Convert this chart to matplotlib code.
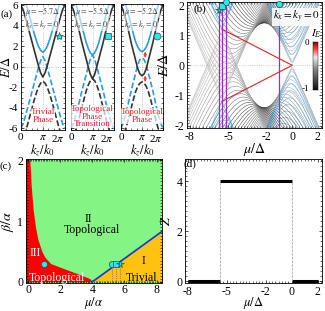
import numpy as np
import matplotlib.pyplot as plt
from matplotlib.colors import LinearSegmentedColormap
from matplotlib.ticker import MultipleLocator, FixedLocator

plt.rcParams['font.family'] = ['Liberation Serif', 'DejaVu Serif']
plt.rcParams['mathtext.fontset'] = 'stix'
plt.rcParams['axes.unicode_minus'] = False
plt.rcParams['font.size'] = 8.5
plt.rcParams['xtick.direction'] = 'in'
plt.rcParams['ytick.direction'] = 'in'
plt.rcParams['xtick.top'] = True
plt.rcParams['ytick.right'] = True
plt.rcParams['xtick.major.size'] = 2.5
plt.rcParams['ytick.major.size'] = 2.5
plt.rcParams['xtick.minor.size'] = 1.2
plt.rcParams['ytick.minor.size'] = 1.2
plt.rcParams['xtick.major.pad'] = 2
plt.rcParams['ytick.major.pad'] = 2
plt.rcParams['axes.linewidth'] = 0.6

# ---- (a) bands along kz (kx=ky=0), read at kz/k0 = 0..pi, mirrored about pi
kz_half = [0, .1, .2, .3, .4, .5, .6, .7, .8, .9, 1.0]
mu_a = [-5.7, -5.5, -5.2]
black_solid = [[6.0, 5.6, 4.9, 4.1, 3.3, 2.5, 1.7, 0.9, 0.1, -0.6, -1.0],
               [6.0, 5.6, 4.9, 4.1, 3.3, 2.4, 1.6, 0.8, 0.0, -0.75, -1.17],
               [6.0, 5.5, 4.8, 4.0, 3.1, 2.2, 1.4, 0.6, -0.2, -0.7, -0.87]]
blue_solid = [[7.4, 7.0, 6.4, 5.7, 4.9, 4.1, 3.3, 2.6, 2.0, 1.6, 1.4],
              [7.3, 6.9, 6.3, 5.6, 4.8, 4.0, 3.2, 2.4, 1.8, 1.35, 1.17],
              [7.2, 6.8, 6.2, 5.5, 4.7, 3.9, 3.1, 2.4, 1.9, 1.6, 1.47]]
phase_text = ['Trivial\nPhase', 'Topological\nPhase\nTransition', 'Topological\nPhase']
phase_y = [-4.8, -4.85, -4.8]
marker_a = ['*', 's', 'o']

# ---- (b) spectrum vs mu at kx=ky=0, quantized kz
n_modes = 36
mu_c1, gap_e = -5.5, 1.17      # gap closing at mu=-5.5, E=+-1.17
d_pair, a_so = 2.2, 0.6
mu_edge = [-5.5, 0.0]
e_edge = [1.2, 0.0]
mu_marks = [-5.7, -5.5, -5.2, -1.0]
e_marks = [1.83, 1.98, 2.1, 2.03]
marker_b = ['*', 's', 'o', 'o']

# ---- (c) phase diagram
beta_III = [2.0, 1.6, 1.2, 0.9, 0.7, 0.5, 0.4, 0.3, 0.2, 0.1, 0.05, 0.0]
mu_III = [0.1, 0.18, 0.3, 0.45, 0.6, 0.85, 1.05, 1.4, 2.4, 3.4, 3.85, 4.0]
mu_I = [4.0, 8.4]
beta_I = [0.0, 0.84]
mu_pts = [1.0, 5.2, 5.5, 5.7]
beta_pts = [0.3, 0.3, 0.3, 0.3]
marker_c = ['o', 'o', 's', '*']

# ---- (d) winding number
mu_steps = [-8.0, -5.5, 0.0, 2.0]
z_vals = [0, 4, 0]

blue = '#2b9be3'
dark = '#333333'
cyan = '#2ee6e6'
red_txt = '#e8202a'
cmap = LinearSegmentedColormap.from_list(
    'ie', [(0, '#101010'), (0.45, '#8a8a8a'), (0.68, '#ececec'),
           (0.84, '#ff5050'), (1.0, '#a00000')])

fig = plt.figure(figsize=(3.25, 3.11), dpi=100)
W, H = 325, 311


def add_px(x0, y0, x1, y1):
    return fig.add_axes([x0 / W, 1 - y1 / H, (x1 - x0) / W, (y1 - y0) / H])


def mirror(v):
    v = np.asarray(v, float)
    return np.concatenate([v, v[::-1][1:]])


kz = np.concatenate([np.array(kz_half), 2 - np.array(kz_half)[::-1][1:]]) * np.pi

# ---------------- panel (a)
a_boxes = [(20.7, 4, 65, 130), (71, 4, 114, 130), (121, 4, 163, 130)]
for i in range(3):
    ax = add_px(*a_boxes[i])
    bs = mirror(black_solid[i])
    us = mirror(blue_solid[i])
    ls = (0, (3.5, 1.5))
    ax.axhline(0, color='#999999', lw=0.5, ls=':')
    ax.axvline(np.pi, color='#999999', lw=0.5, ls=':')
    ax.plot(kz, -bs, color=blue, lw=1.2, ls=ls)
    ax.plot(kz, -us, color=dark, lw=1.2, ls=ls)
    ax.plot(kz, us, color=blue, lw=1.2)
    ax.plot(kz, bs, color=dark, lw=1.2)
    ax.set_xlim(0, 2 * np.pi)
    ax.set_ylim(-6.15, 6.1)
    ax.set_xticks([0, np.pi, 2 * np.pi])
    ax.set_xticklabels(['0', r'$\pi$', r'2$\pi$'])
    ax.get_xticklabels()[2].set_ha('right')
    ax.xaxis.set_minor_locator(MultipleLocator(np.pi / 4))
    ax.yaxis.set_major_locator(MultipleLocator(2))
    ax.yaxis.set_minor_locator(MultipleLocator(0.5))
    ax.tick_params(labelsize=8)
    if i == 0:
        ax.set_ylabel(r'$E/\Delta$', fontsize=9)
        ax.yaxis.set_label_coords(-0.18, 0.5)
    else:
        ax.set_yticklabels([])
    ax.set_xlabel(r'$k_z/k_0$', fontsize=9)
    ax.xaxis.set_label_coords(0.5, -0.1)
    ax.text(np.pi, 5.35, r'$\mu=-%.1f\Delta$' % abs(mu_a[i]), ha='center',
            va='center', fontsize=5.8, color='#444444',
            bbox=dict(fc='white', ec='none', alpha=0.6, pad=0))
    ax.text(np.pi * 0.95, 4.1, r'$k_x=k_y=0$', ha='center', va='center',
            fontsize=5.8, color='#444444',
            bbox=dict(fc='white', ec='none', alpha=0.6, pad=0))
    ax.text(np.pi, phase_y[i], phase_text[i], ha='center', va='center',
            fontsize=6.5, color=red_txt, linespacing=0.95,
            bbox=dict(fc='white', ec='none', alpha=0.7, pad=0))
    ax.plot(1.72 * np.pi, 3.0, marker=marker_a[i], ms=6 if i == 0 else 5,
            mfc=cyan, mec='#1a4f5a', mew=0.5, clip_on=False)
    if i == 2:
        for e0, e1 in [(1.47, 0.87), (-0.87, -1.47)]:
            ax.annotate('', xy=(1.15 * np.pi, e1), xytext=(1.15 * np.pi, e0),
                        arrowprops=dict(arrowstyle='<->', color='#ee2222',
                                        lw=0.6, shrinkA=0, shrinkB=0,
                                        mutation_scale=4))
fig.text(7 / W, 1 - 14 / H, '(a)', ha='center', va='center', fontsize=8)

# ---------------- panel (b)
axb = add_px(187.3, 2, 322.3, 128)
mu = np.linspace(-8.3, 2.4, 500)
kq = np.pi * (np.arange(n_modes) + 0.5) / n_modes
for j, k in enumerate(kq):
    c = -mu_c1 * np.sin(k / 2) ** 2
    xi = mu + c
    dd = d_pair * np.sin(k)
    hh = np.sqrt((gap_e * np.sin(k / 2) ** 2) ** 2 + (a_so * np.sin(k)) ** 2)
    ee = np.sqrt(xi ** 2 + dd ** 2)
    gcol = cmap(0.12 + 0.45 * abs(np.cos(k)))
    for s in (1, -1):
        axb.plot(mu, s * (ee - hh), color=gcol, lw=0.35)
        axb.plot(mu, s * (ee + hh), color=blue, lw=0.35, alpha=0.9)
axb.plot(mu_edge, e_edge, color='#e82020', lw=0.8)
axb.plot(mu_edge, [-e for e in e_edge], color='#e82020', lw=0.8)
axb.axhline(0, color='#aaaaaa', lw=0.5, ls=':')
for m, e, mk in zip(mu_marks, e_marks, marker_b):
    axb.axvline(m, color='#9a2fc0', lw=0.9)
    axb.plot(m, e, marker=mk, ms=5.5 if mk == '*' else 4.5, mfc=cyan,
             mec='#1a4f5a', mew=0.5, clip_on=False, zorder=5)
axb.set_xlim(-8.2, 2.35)
axb.set_ylim(-2.08, 2.1)
axb.xaxis.set_major_locator(FixedLocator([-8, -5, -2, 0, 2]))
axb.xaxis.set_minor_locator(MultipleLocator(0.25))
axb.yaxis.set_major_locator(MultipleLocator(1))
axb.yaxis.set_minor_locator(MultipleLocator(0.1))
axb.set_xlabel(r'$\mu/\Delta$', fontsize=10)
axb.xaxis.set_label_coords(0.5, -0.1)
axb.set_ylabel(r'$E/\Delta$', fontsize=10)
axb.yaxis.set_label_coords(-0.12, 0.5)
axb.text(0.3, 1.6, r'$k_x=k_y=0$', ha='center', va='center', fontsize=8,
         bbox=dict(fc='white', ec='none', alpha=0.85, pad=0.5))
axb.text(-7.2, 1.85, '(b)', ha='center', va='center', fontsize=8)

cax = fig.add_axes([313 / W, 1 - 90 / H, 4.5 / W, 48 / H])
cax.imshow(np.linspace(0, 1, 100)[::-1, None], aspect='auto', cmap=cmap,
           extent=[0, 1, -1, 0])
cax.set_xticks([])
cax.set_yticks([])
for sp in cax.spines.values():
    sp.set_linewidth(0.3)
fig.text(307 / W, 1 - 43 / H, '0', ha='center', va='center', fontsize=6.5)
fig.text(305 / W, 1 - 89 / H, '-1', ha='center', va='center', fontsize=6.5)
fig.text(316 / W, 1 - 34 / H, r'$I_E$', ha='center', va='center', fontsize=8)

# ---------------- panel (c)
axc = add_px(26, 159, 161.7, 283)
axc.set_facecolor('#84f484')
axc.fill_betweenx(beta_III, -0.5, mu_III, color='#ff0000', lw=0)
axc.fill_between(mu_I, 0, beta_I, color='#ffc20e', lw=0)
axc.plot(mu_I, beta_I, color='#1e2ee0', lw=1.2)
for m, b, mk in zip(mu_pts, beta_pts, marker_c):
    axc.plot([m, m], [0, b], color='#555555', lw=0.5, ls=':')
    axc.plot(m, b, marker=mk, ms=5.5 if mk == '*' else 4.5, mfc=cyan,
             mec='#1a4f5a', mew=0.5, zorder=5)
axc.text(3.74, 1.04, 'II', ha='center', va='center', fontsize=8.5)
axc.text(3.95, 0.85, 'Topological', ha='center', va='center', fontsize=8.5)
axc.text(0.42, 0.47, 'III', ha='center', va='center', fontsize=8.5, color='white')
axc.text(1.77, 0.07, 'Topological', ha='center', va='center', fontsize=8.5,
         color='white')
axc.text(7.17, 0.34, 'I', ha='center', va='center', fontsize=8.5)
axc.text(7.07, 0.07, 'Trivial', ha='center', va='center', fontsize=8.5)
axc.set_xlim(-0.14, 8.32)
axc.set_ylim(-0.02, 2.02)
axc.xaxis.set_major_locator(MultipleLocator(2))
axc.xaxis.set_minor_locator(MultipleLocator(0.1))
axc.yaxis.set_major_locator(MultipleLocator(1))
axc.yaxis.set_minor_locator(MultipleLocator(0.05))
axc.set_xlabel(r'$\mu/\alpha$', fontsize=9)
axc.xaxis.set_label_coords(0.5, -0.1)
axc.set_ylabel(r'$\beta/\alpha$', fontsize=10)
axc.yaxis.set_label_coords(-0.075, 0.5)
fig.text(6 / W, 1 - 166 / H, '(c)', ha='center', va='center', fontsize=8)

# ---------------- panel (d)
axd = add_px(185, 159, 322.3, 283)
axd.hlines(z_vals, mu_steps[:-1], mu_steps[1:], color='black', lw=2.2)
for m in mu_steps[1:-1]:
    axd.plot([m, m], [0, 4], color='#999999', lw=0.5, ls='--')
axd.set_xlim(-8.2, 2.35)
axd.set_ylim(-0.07, 4.9)
axd.xaxis.set_major_locator(FixedLocator([-8, -5, -2, 0, 2]))
axd.xaxis.set_minor_locator(MultipleLocator(0.25))
axd.yaxis.set_major_locator(MultipleLocator(2))
axd.yaxis.set_minor_locator(MultipleLocator(0.2))
axd.set_xlabel(r'$\mu/\Delta$', fontsize=9)
axd.xaxis.set_label_coords(0.5, -0.1)
axd.set_ylabel(r'$Z$', fontsize=10)
axd.yaxis.set_label_coords(-0.09, 0.5)
fig.text(190 / W, 1 - 164 / H, '(d)', ha='center', va='center', fontsize=8)

for a in fig.axes:
    a.tick_params(width=0.5)
    a.tick_params(which='minor', width=0.4)
for a in [axb, axc, axd]:
    a.tick_params(labelsize=8.5)
axc.tick_params(axis='x', which='major', pad=1)

fig.savefig('out.png', dpi=100)
